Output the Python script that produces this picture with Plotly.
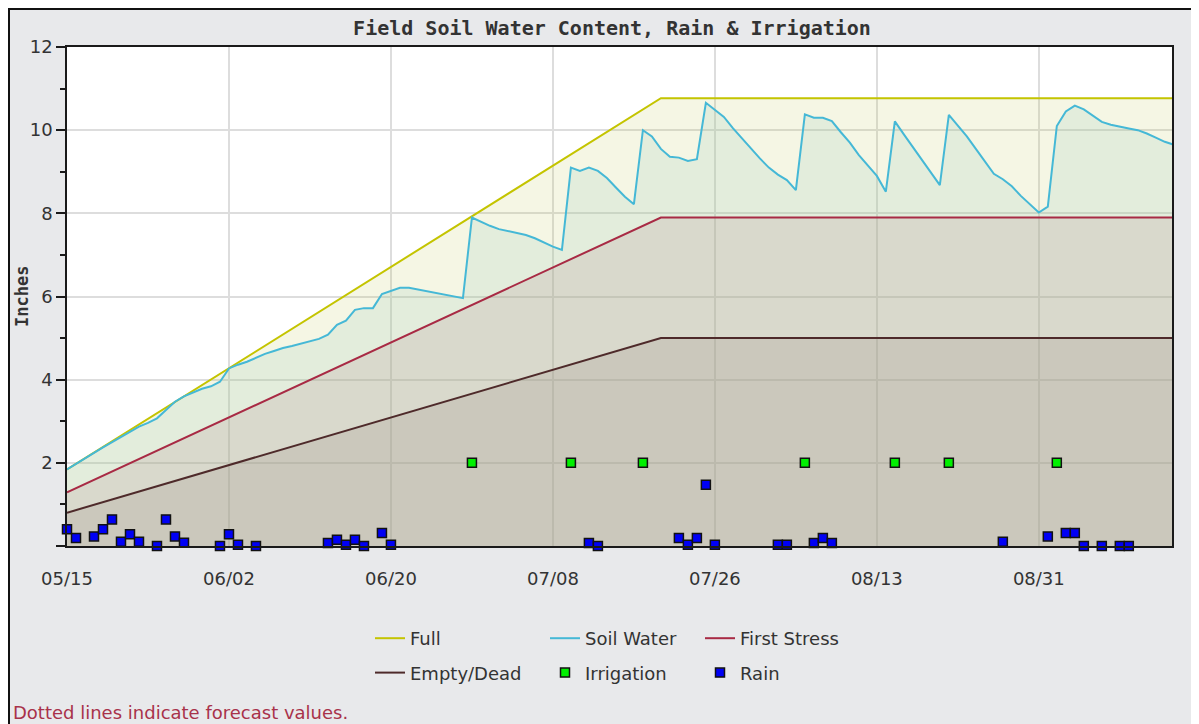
import plotly.graph_objects as go
import pandas as pd

# ---------------- data ----------------
start_date = "2023-05-15"

# daily soil water content (inches), starting 05/15
soil_water = [
    1.84, 1.98, 2.12, 2.24, 2.37, 2.50, 2.62, 2.75, 2.87, 2.96,
    3.07, 3.27, 3.47, 3.60, 3.69, 3.78, 3.84, 3.95, 4.27, 4.36,
    4.43, 4.52, 4.62, 4.69, 4.76, 4.81, 4.87, 4.92, 4.98, 5.08,
    5.32, 5.42, 5.68, 5.72, 5.72, 6.06, 6.13, 6.21, 6.21, 6.17,
    6.13, 6.09, 6.04, 6.00, 5.96, 7.90, 7.80, 7.70, 7.62, 7.57,
    7.52, 7.48, 7.40, 7.30, 7.20, 7.12, 9.10, 9.02, 9.10, 9.02,
    8.85, 8.62, 8.40, 8.22, 10.00, 9.85, 9.55, 9.36, 9.34, 9.26,
    9.30, 10.66, 10.48, 10.32, 10.05, 9.80, 9.55, 9.32, 9.10, 8.93,
    8.80, 8.56, 10.38, 10.30, 10.30, 10.22, 9.95, 9.70, 9.40, 9.15,
    8.90, 8.52, 10.21, 9.90, 9.60, 9.30, 9.00, 8.68, 10.37, 10.10,
    9.85, 9.55, 9.25, 8.95, 8.82, 8.65, 8.42, 8.22, 8.02, 8.16,
    10.10, 10.45, 10.59, 10.50, 10.35, 10.20, 10.13, 10.08, 10.04, 10.00,
    9.92, 9.82, 9.72, 9.65,
]
soil_dates = pd.date_range(start_date, periods=len(soil_water), freq="D")

level_dates = ["2023-05-15", "2023-07-20", "2023-09-15"]
full_vals = [1.84, 10.77, 10.77]
stress_vals = [1.29, 7.90, 7.90]
empty_vals = [0.80, 5.00, 5.00]

irrig_dates = ["2023-06-29", "2023-07-10", "2023-07-18", "2023-08-05",
               "2023-08-15", "2023-08-21", "2023-09-02"]
irrig_vals = [2.0, 2.0, 2.0, 2.0, 2.0, 2.0, 2.0]

rain_dates = [
    "2023-05-15", "2023-05-16", "2023-05-18", "2023-05-19", "2023-05-20",
    "2023-05-21", "2023-05-22", "2023-05-23", "2023-05-25", "2023-05-26",
    "2023-05-27", "2023-05-28", "2023-06-01", "2023-06-02", "2023-06-03",
    "2023-06-05", "2023-06-13", "2023-06-14", "2023-06-15", "2023-06-16",
    "2023-06-17", "2023-06-19", "2023-06-20", "2023-07-12", "2023-07-13",
    "2023-07-22", "2023-07-23", "2023-07-24", "2023-07-25", "2023-07-26",
    "2023-08-02", "2023-08-03", "2023-08-06", "2023-08-07", "2023-08-08",
    "2023-08-27", "2023-09-01", "2023-09-03", "2023-09-04", "2023-09-05",
    "2023-09-07", "2023-09-09", "2023-09-10",
]
rain_vals = [
    0.40, 0.19, 0.23, 0.40, 0.64,
    0.10, 0.28, 0.10, 0.00, 0.64,
    0.23, 0.08, 0.00, 0.28, 0.03,
    0.00, 0.07, 0.15, 0.03, 0.15,
    0.00, 0.31, 0.03, 0.07, 0.00,
    0.19, 0.03, 0.19, 1.47, 0.03,
    0.03, 0.03, 0.07, 0.19, 0.07,
    0.10, 0.23, 0.31, 0.31, 0.00,
    0.00, 0.00, 0.00,
]

x_tick_vals = ["2023-05-15", "2023-06-02", "2023-06-20", "2023-07-08",
               "2023-07-26", "2023-08-13", "2023-08-31"]
x_tick_text = ["05/15", "06/02", "06/20", "07/08", "07/26", "08/13", "08/31"]
y_tick_vals = [0, 2, 4, 6, 8, 10, 12]
y_tick_text = ["", "2", "4", "6", "8", "10", "12"]

# ---------------- figure ----------------
# page body has an 8px margin; figure-local coordinates = screen - 8
OFF = 8
W, H = 1199 - OFF, 724 - OFF
L, R, T, B = 67 - OFF, 27, 47 - OFF, 178
PW, PH = W - L - R, H - T - B


def px(X):  # screen pixel x -> paper
    return (X - OFF - L) / PW


def py(Y):  # screen pixel y -> paper
    return (H - B - (Y - OFF)) / PH


series = [
    # name, x, y, line colour, fill colour, legend
    ("Full", level_dates, full_vals, "#C4C400", "rgba(188,195,75,0.15)", "legend"),
    ("Soil Water", soil_dates, soil_water, "#45B8D6", "rgba(155,206,188,0.2)", "legend2"),
    ("First Stress", level_dates, stress_vals, "#A82A44", "rgba(182,138,140,0.2)", "legend3"),
    ("Empty/Dead", level_dates, empty_vals, "#4E2A2A", "rgba(148,133,124,0.2)", "legend"),
]

fig = go.Figure()

# area fills (no legend)
for name, xs, ys, lc, fc, lg in series:
    fig.add_trace(go.Scatter(
        x=xs, y=ys, mode="lines", line=dict(width=0, color=lc),
        fill="tozeroy", fillcolor=fc, showlegend=False, hoverinfo="skip"))

# lines (with legend entries)
for i, (name, xs, ys, lc, fc, lg) in enumerate(series):
    fig.add_trace(go.Scatter(
        x=xs, y=ys, name=name, mode="lines",
        line=dict(color=lc, width=2),
        legend=lg, legendgroup="g%d" % i))

fig.add_trace(go.Scatter(
    x=irrig_dates, y=irrig_vals, name="Irrigation", mode="markers",
    marker=dict(symbol="square", size=9, color="#00F000",
                line=dict(color="#111111", width=1.5)),
    cliponaxis=False, legend="legend2", legendgroup="g4"))
fig.add_trace(go.Scatter(
    x=rain_dates, y=rain_vals, name="Rain", mode="markers",
    marker=dict(symbol="square", size=9, color="#0000F5",
                line=dict(color="#111111", width=1.5)),
    cliponaxis=False, legend="legend3", legendgroup="g5"))

legend_common = dict(
    orientation="v", xanchor="left", yanchor="top",
    y=py(620), bgcolor="rgba(0,0,0,0)", borderwidth=0,
    font=dict(family="DejaVu Sans", size=18, color="#333333"),
    traceorder="grouped", tracegroupgap=8,
)

fig.update_layout(
    width=W, height=H,
    margin=dict(l=L, r=R, t=T, b=B),
    paper_bgcolor="#E8E9EB",
    plot_bgcolor="#FFFFFF",
    showlegend=True,
    title=dict(text="<b>Field Soil Water Content, Rain &amp; Irrigation</b>",
               x=(612 - OFF) / W, xanchor="center", y=1 - (28 - OFF) / H,
               yanchor="middle",
               font=dict(family="DejaVu Sans Mono", size=20, color="#333333")),
    legend=dict(x=px(370), **legend_common),
    legend2=dict(x=px(545), **legend_common),
    legend3=dict(x=px(700), **legend_common),
    xaxis=dict(
        type="date",
        range=["2023-05-15", "2023-09-14 19:12"],
        tickmode="array", tickvals=x_tick_vals, ticktext=x_tick_text,
        ticks="", ticklabelstandoff=16,
        tickfont=dict(family="DejaVu Sans", size=18, color="#333333"),
        showgrid=True, gridcolor="#DDDDDD", gridwidth=1.5,
        showline=True, linecolor="#1A1A1A", linewidth=1.5, mirror=True,
        zeroline=False,
    ),
    yaxis=dict(
        range=[0, 12],
        tickmode="array", tickvals=y_tick_vals, ticktext=y_tick_text,
        ticks="outside", ticklen=9, tickwidth=1.5, tickcolor="#1A1A1A",
        minor=dict(tickmode="linear", tick0=0, dtick=1, ticks="outside",
                   ticklen=5, tickwidth=1.5, tickcolor="#1A1A1A", showgrid=False),
        tickfont=dict(family="DejaVu Sans", size=18, color="#333333"),
        showgrid=True, gridcolor="#DDDDDD", gridwidth=1.5,
        showline=True, linecolor="#1A1A1A", linewidth=1.5, mirror=True,
        zeroline=False,
    ),
    annotations=[
        dict(text="<b>Inches</b>", textangle=-90, showarrow=False,
             xref="paper", yref="paper", x=px(22), y=py(297),
             xanchor="center", yanchor="middle",
             font=dict(family="DejaVu Sans Mono", size=17, color="#333333")),
        dict(text="Dotted lines indicate forecast values.", showarrow=False,
             xref="paper", yref="paper", x=px(11), y=py(712),
             xanchor="left", yanchor="middle",
             font=dict(family="DejaVu Sans", size=18, color="#A8324A")),
    ],
    shapes=[
        # outer frame lines (left, top)
        dict(type="line", xref="paper", yref="paper",
             x0=px(OFF + 1), x1=px(OFF + 1), y0=py(740), y1=py(OFF),
             line=dict(color="#111111", width=2)),
        dict(type="line", xref="paper", yref="paper",
             x0=px(OFF), x1=px(1210), y0=py(OFF + 1), y1=py(OFF + 1),
             line=dict(color="#111111", width=2)),
    ],
)

fig.write_html("out.html")
